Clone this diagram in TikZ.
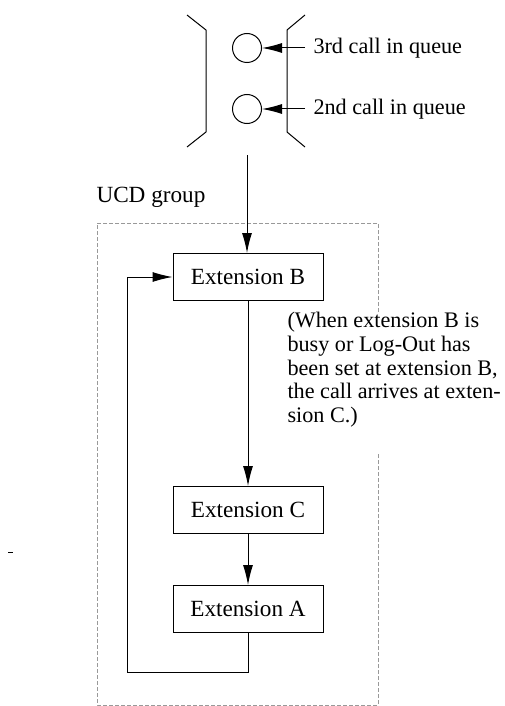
\documentclass[tikz,border=0pt]{standalone}
\usepackage{fontspec}
\setmainfont{Liberation Serif}
\usetikzlibrary{arrows.meta}

\begin{document}
\begin{tikzpicture}[x=0.5pt,y=-0.5pt,line width=0.5pt,
    every node/.style={font=\fontsize{11.6}{11.8}\selectfont},
    texto/.style={font=\fontsize{11.1}{11.8}\selectfont},
    ext/.style={draw,rectangle,minimum width=75pt,minimum height=23.5pt,inner sep=0pt},
    llamada/.style={draw,circle,minimum size=14.5pt,inner sep=0pt},
    flecha/.style={-{Latex[length=10pt,width=5pt]}},
    grupo/.style={gray!80,dash pattern=on 2pt off 1pt}]
  \useasboundingbox (0,0) rectangle (504,706);

  % Cola (corchetes)
  \draw (187,15) -- (206,30) -- (206,132) -- (187,147);
  \draw (305,15) -- (287,30) -- (287,132) -- (305,147);

  % Llamadas en cola
  \node[llamada] (q3) at (247,48) {};
  \node[llamada] (q2) at (247,109) {};
  \node[texto,anchor=west,inner xsep=4pt,inner ysep=0pt] (t3) at (305,48) {3rd call in queue};
  \node[texto,anchor=west,inner xsep=4pt,inner ysep=0pt] (t2) at (305,109) {2nd call in queue};
  \draw[flecha] (t3.west) -- (q3.east);
  \draw[flecha] (t2.west) -- (q2.east);

  % Grupo UCD (marco discontinuo)
  \node[anchor=base west,inner sep=0pt] (ucd) at (96,202) {UCD group};
  \draw[grupo] (378,312) -- (378,223) -- (97,223) -- (97,705) -- (378,705) -- (378,453);

  % Extensiones
  \node[ext] (extB) at (248,277) {Extension B};
  \node[ext] (extC) at (248,510) {Extension C};
  \node[ext] (extA) at (248,609) {Extension A};

  % Nota
  \node[texto,anchor=north west,align=left,inner sep=0pt] (nota) at (287,312)
    {(When extension B is\\busy or Log-Out has\\been set at extension B,\\the call arrives at exten-\\sion C.)};

  % Conexiones
  \coordinate (qout) at (247,155);
  \coordinate (lazo) at (127,672);
  \draw[flecha] (qout) -- (qout |- extB.north);
  \draw[flecha] (extB) -- (extC);
  \draw[flecha] (extC) -- (extA);
  \draw[flecha] (extA.south) |- (lazo) |- (extB.west);

  % Marca suelta
  \draw (8,552) -- (13,552);
\end{tikzpicture}
\end{document}
